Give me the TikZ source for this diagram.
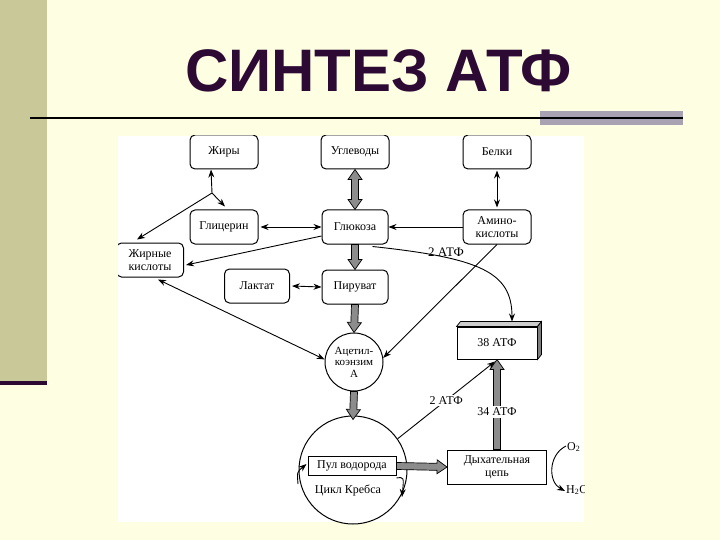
\documentclass[tikz,border=0pt]{standalone}
\usepackage{fontspec}
\setmainfont{Liberation Serif}
\newfontfamily\titlefont{Liberation Sans}
\usetikzlibrary{arrows.meta,calc}
\definecolor{bg}{RGB}{254,254,226}
\definecolor{sidebar}{RGB}{200,200,152}
\definecolor{titlecol}{RGB}{45,10,52}
\definecolor{barcol}{RGB}{168,162,178}
\definecolor{fatgray}{RGB}{140,140,140}
\definecolor{topface}{RGB}{205,205,205}
\definecolor{sideface}{RGB}{125,125,125}
\tikzset{
  fat/.style={draw=black, fill=fatgray, line width=0.7pt},
  box/.style={draw, rounded corners=5pt, fill=white, minimum width=68pt, minimum height=34pt,
    align=center, inner sep=1pt, line width=1pt, font=\fontsize{12}{12.5}\selectfont},
  rbox/.style={draw, fill=white, align=center, inner sep=1pt, line width=1pt,
    font=\fontsize{12}{12.5}\selectfont},
  circ/.style={draw, circle, fill=white, align=center, inner sep=0pt, line width=1pt,
    font=\fontsize{11}{11.5}\selectfont},
  txt/.style={font=\fontsize{12}{12.5}\selectfont, inner sep=1pt},
  lbl/.style={fill=white, inner sep=1.5pt, font=\fontsize{12}{12.5}\selectfont},
  ar/.style={-{Stealth[length=8pt,width=6pt]}, line width=0.9pt},
  dar/.style={{Stealth[length=8pt,width=6pt]}-{Stealth[length=8pt,width=6pt]}, line width=0.9pt},
}
\newcommand\fatarrow[2]{%
 \draw[fat] let \p1=#1, \p2=#2, \n1={atan2(\y2-\y1,\x2-\x1)} in
 ($(\p1)+(\n1+90:3.5pt)$) -- ($(\p2)+(\n1+180:10pt)+(\n1+90:3.5pt)$)
 -- ($(\p2)+(\n1+180:10pt)+(\n1+90:7pt)$) -- (\p2)
 -- ($(\p2)+(\n1+180:10pt)+(\n1-90:7pt)$) -- ($(\p2)+(\n1+180:10pt)+(\n1-90:3.5pt)$)
 -- ($(\p1)+(\n1-90:3.5pt)$) -- cycle;}
\newcommand\fatdarrow[2]{%
 \draw[fat] let \p1=#1, \p2=#2, \n1={atan2(\y2-\y1,\x2-\x1)} in
 (\p1) -- ($(\p1)+(\n1:10pt)+(\n1+90:7pt)$) -- ($(\p1)+(\n1:10pt)+(\n1+90:3.5pt)$)
 -- ($(\p2)+(\n1+180:10pt)+(\n1+90:3.5pt)$) -- ($(\p2)+(\n1+180:10pt)+(\n1+90:7pt)$)
 -- (\p2) -- ($(\p2)+(\n1+180:10pt)+(\n1-90:7pt)$) -- ($(\p2)+(\n1+180:10pt)+(\n1-90:3.5pt)$)
 -- ($(\p1)+(\n1:10pt)+(\n1-90:3.5pt)$) -- ($(\p1)+(\n1:10pt)+(\n1-90:7pt)$) -- cycle;}
\begin{document}
\begin{tikzpicture}[x=1pt,y=-1pt]
\useasboundingbox (0,0) rectangle (720,540);
% slide background
\fill[bg] (0,0) rectangle (720,540);
\fill[sidebar] (0,0) rectangle (47,381);
\fill[titlecol] (0,381) rectangle (47,385);
\node[anchor=base, text=titlecol, inner sep=0pt, font=\titlefont\bfseries\fontsize{60}{60}\selectfont] (title) at (378.5,92) {СИНТЕЗ АТФ};
\fill[barcol] (540,111) rectangle (683,125);
\draw[line width=2.5pt] (30,118) -- (683,118);
% diagram area
\fill[white] (118,136) rectangle (584,522);
\begin{scope}
\clip (118,136) rectangle (584,524);
% nodes
\node[box] (zh) at (224,152) {Жиры};
\node[box] (ug) at (355,152) {Углеводы};
\node[box] (be) at (497,152) {Белки};
\node[box] (gc) at (224,227) {Глицерин};
\node[box, minimum width=66pt] (gl) at (355,227) {Глюкоза};
\node[box] (am) at (497,227) {Амино-\\кислоты};
\node[box, minimum width=67pt] (zk) at (150,260) {Жирные\\кислоты};
\node[box, minimum width=65pt] (la) at (257,286) {Лактат};
\node[box, minimum width=66pt] (pi) at (355,287) {Пируват};
\node[circ, minimum size=58pt] (ac) at (354,362) {Ацетил-\\коэнзим\\А};
\node[circ, minimum size=108pt] (kr) at (353,470) {};
\node[rbox, minimum width=88pt, minimum height=19pt] (pul) at (352,466) {Пул водорода};
\node[txt] (cyc) at (348,490) {Цикл Кребса};
% 38 ATP 3D box
\node[rbox, minimum width=80pt, minimum height=32pt] (atf) at (497,343) {38 АТФ};
\filldraw[fill=topface, line width=0.7pt] (atf.north west) -- ++(4,-5) -- ([shift={(4pt,5pt)}]atf.north east) -- (atf.north east) -- cycle;
\filldraw[fill=sideface, line width=0.7pt] (atf.north east) -- ++(4,-5) -- ([shift={(4pt,5pt)}]atf.south east) -- (atf.south east) -- cycle;
\node[rbox, minimum width=99pt, minimum height=34pt] (dc) at (497,467) {Дыхательная\\цепь};
\node[txt, anchor=west] (o2) at (566,447) {O\textsubscript{2}};
\node[txt, anchor=west] (h2o) at (565,490) {H\textsubscript{2}O};
\coordinate (j) at (212,193);
% thin connectors
\draw[ar] (j) -- ([xshift=-13pt]zh.south);
\draw[ar] (j) -- ([xshift=1pt,yshift=3pt]gc.north);
\draw[ar] (j) -- ([xshift=-13pt,yshift=3pt]zk.north);
\draw[dar] ([xshift=2pt]gc.east) -- (gl.west);
\draw[ar] ([yshift=-9pt]gl.west) -- ([xshift=2pt,yshift=-5pt]zk.east);
\draw[dar] ([xshift=2pt]la.east) -- (pi.west);
\draw[dar] ([xshift=8pt,yshift=-2pt]zk.south) -- (ac.175);
\draw[dar] ([yshift=-1pt]be.south) -- ([yshift=2pt]am.north);
\draw[ar] (am.west) -- (gl.east);
\draw[ar] (am.south) -- (ac.8);
\draw[ar] ([xshift=-16pt,yshift=-2pt]gl.south east) .. controls (480,258) and (512,272) .. ([xshift=15pt,yshift=5pt]atf.north)
  node[lbl, fill=none, pos=0.28, above=-1pt, font=\fontsize{13}{13.5}\selectfont] {2 АТФ};
\draw[ar] (kr.35) -- ([xshift=-2pt,yshift=-2pt]atf.south) node[lbl, midway] {2 АТФ};
\draw[ar] (298,484) .. controls (297,472) .. ([xshift=-1pt,yshift=2pt]pul.west);
\draw[ar] ([yshift=-2pt]pul.south east) .. controls (404,477) .. (402,497);
\draw[ar] ([yshift=1pt]o2.west) .. controls (548,455) and (548,482) .. ([yshift=-1pt]h2o.west);
% fat arrows
\fatdarrow{(ug.south)}{(gl.north)}
\fatarrow{(gl.south)}{(pi.north)}
\fatarrow{(pi.south)}{(ac.north)}
\fatarrow{(ac.south)}{([yshift=-4pt]kr.north)}
\fatarrow{(pul.east)}{(dc.west)}
\fatarrow{(dc.north)}{(atf.south)}
\node[lbl] (l34) at (497,412) {34 АТФ};
\end{scope}
\end{tikzpicture}
\end{document}
